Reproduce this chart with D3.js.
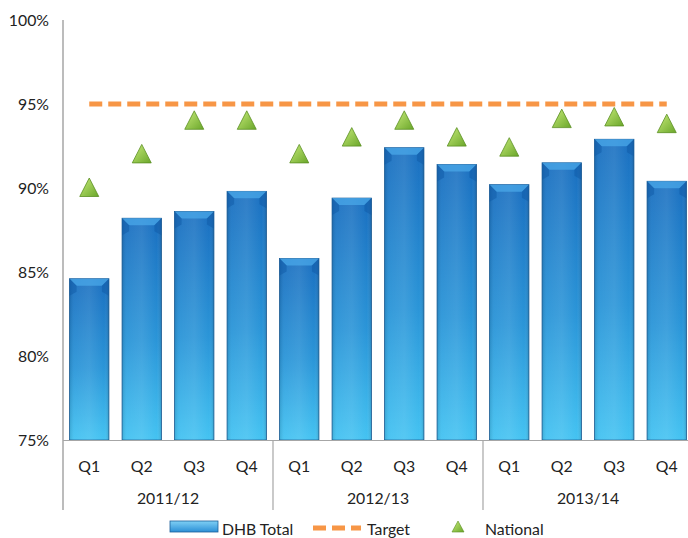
<!DOCTYPE html>
<html>
<head>
<meta charset="utf-8">
<script src="https://cdn.jsdelivr.net/npm/d3@7"></script>
<style>
  body { margin: 0; background: #fff; }
  svg text { font-family: Lato, "Open Sans", sans-serif; fill: #222; }
</style>
</head>
<body>
<div id="chart"></div>
<script>
let years = ['2011/12', '2012/13', '2013/14']
let quarters = ['Q1', 'Q2', 'Q3', 'Q4']
let dhbTotal = [84.6, 88.2, 88.6, 89.8, 85.8, 89.4, 92.4, 91.4, 90.2, 91.5, 92.9, 90.4]
let national = [90, 92, 94, 94, 92, 93, 94, 93, 92.4, 94.1, 94.2, 93.8]
let target = 95
let yTicks = [75, 80, 85, 90, 95, 100]

let width = 688
let height = 538
let fontSize = '15.8px'
let margin = { left: 63, right: -5, top: 20, bottom: 98 }
let plotW = width - margin.left - margin.right
let plotH = height - margin.top - margin.bottom

let cats = []
years.forEach(y => quarters.forEach(q => cats.push(y + '|' + q)))

let svg = d3.select('#chart').append('svg')
    .attr('width', width)
    .attr('height', height)

let defs = svg.append('defs')
let barGrad = defs.append('linearGradient')
    .attr('id', 'barGrad')
    .attr('x1', 0).attr('y1', 0).attr('x2', 0).attr('y2', 1)
barGrad.append('stop').attr('offset', '0%').attr('stop-color', '#1a6fc0')
barGrad.append('stop').attr('offset', '55%').attr('stop-color', '#2a95d8')
barGrad.append('stop').attr('offset', '100%').attr('stop-color', '#44c3f2')

let sideGrad = defs.append('linearGradient')
    .attr('id', 'sideGrad')
    .attr('x1', 0).attr('y1', 0).attr('x2', 1).attr('y2', 0)
sideGrad.append('stop').attr('offset', '0%').attr('stop-color', '#000').attr('stop-opacity', 0.12)
sideGrad.append('stop').attr('offset', '12%').attr('stop-color', '#fff').attr('stop-opacity', 0.05)
sideGrad.append('stop').attr('offset', '50%').attr('stop-color', '#fff').attr('stop-opacity', 0.1)
sideGrad.append('stop').attr('offset', '88%').attr('stop-color', '#fff').attr('stop-opacity', 0.0)
sideGrad.append('stop').attr('offset', '100%').attr('stop-color', '#000').attr('stop-opacity', 0.15)

let triGrad = defs.append('linearGradient')
    .attr('id', 'triGrad')
    .attr('x1', 0).attr('y1', 0).attr('x2', 1).attr('y2', 1)
triGrad.append('stop').attr('offset', '0%').attr('stop-color', '#c8ec7a')
triGrad.append('stop').attr('offset', '100%').attr('stop-color', '#6aa62a')

let g = svg.append('g')
    .attr('transform', `translate(${margin.left},${margin.top})`)

let x = d3.scaleBand()
    .domain(cats)
    .range([0, plotW])
    .paddingInner(0.25)
    .paddingOuter(0.125)

let y = d3.scaleLinear()
    .domain([75, 100])
    .range([plotH, 0])

// y axis labels
g.append('g')
    .selectAll('text')
    .data(yTicks)
    .join('text')
    .attr('x', -14)
    .attr('y', d => y(d))
    .attr('dy', '0.35em')
    .attr('text-anchor', 'end')
    .style('font-size', fontSize)
    .text(d => d + '%')

// bars
let bars = g.append('g').selectAll('g')
    .data(dhbTotal)
    .join('g')
    .attr('transform', (d, i) => `translate(${x(cats[i])},${y(d)})`)

bars.append('rect')
    .attr('width', x.bandwidth())
    .attr('height', d => plotH - y(d))
    .attr('fill', 'url(#barGrad)')
    .attr('stroke', '#1d5f9a')
    .attr('stroke-width', 0.8)
bars.append('rect')
    .attr('width', x.bandwidth())
    .attr('height', d => plotH - y(d))
    .attr('fill', 'url(#sideGrad)')
// top bevel
let bev = 7
bars.append('path')
    .attr('d', `M0,0 L${x.bandwidth()},0 L${x.bandwidth() - bev},${bev} L${bev},${bev} Z`)
    .attr('fill', '#4aa8e8')
    .attr('opacity', 0.75)
bars.append('path')
    .attr('d', `M0,0 L${bev},${bev} L${bev},${bev + 6} L0,${bev + 10} Z`)
    .attr('fill', '#0f5aa6')
    .attr('opacity', 0.5)
bars.append('path')
    .attr('d', `M${x.bandwidth()},0 L${x.bandwidth() - bev},${bev} L${x.bandwidth() - bev},${bev + 6} L${x.bandwidth()},${bev + 10} Z`)
    .attr('fill', '#0f5aa6')
    .attr('opacity', 0.5)

// target line
let firstC = x(cats[0]) + x.bandwidth() / 2
let lastC = x(cats[cats.length - 1]) + x.bandwidth() / 2
g.append('line')
    .attr('x1', firstC)
    .attr('x2', lastC)
    .attr('y1', y(target))
    .attr('y2', y(target))
    .attr('stroke', '#f79646')
    .attr('stroke-width', 5)
    .attr('stroke-dasharray', '13,6')

// national triangles
let tri = (cx, cy) => `M${cx},${cy - 10} L${cx + 9.5},${cy + 8.5} L${cx - 9.5},${cy + 8.5} Z`
g.append('g').selectAll('path')
    .data(national)
    .join('path')
    .attr('d', (d, i) => tri(x(cats[i]) + x.bandwidth() / 2, y(d)))
    .attr('fill', 'url(#triGrad)')
    .attr('stroke', '#5b8f22')
    .attr('stroke-width', 0.8)

// axes lines
let axisColor = '#a6a6a6'
g.append('line')
    .attr('x1', 0).attr('x2', 0)
    .attr('y1', 0).attr('y2', plotH + 70)
    .attr('stroke', axisColor)
    .attr('stroke-width', 1.5)
g.append('line')
    .attr('x1', 0).attr('x2', plotW)
    .attr('y1', plotH + 0.5).attr('y2', plotH + 0.5)
    .attr('stroke', axisColor)
    .attr('stroke-width', 1.2)

let step = x.step()
let groupW = step * 4
years.forEach((yr, k) => {
    if (k > 0) {
        g.append('line')
            .attr('x1', k * groupW).attr('x2', k * groupW)
            .attr('y1', plotH).attr('y2', plotH + 70)
            .attr('stroke', axisColor)
            .attr('stroke-width', 1.2)
    }
    g.append('text')
        .attr('x', k * groupW + groupW / 2)
        .attr('y', plotH + 64)
        .attr('text-anchor', 'middle')
        .style('font-size', fontSize)
        .text(yr)
})

g.append('g').selectAll('text')
    .data(cats)
    .join('text')
    .attr('x', d => x(d) + x.bandwidth() / 2)
    .attr('y', plotH + 32)
    .attr('text-anchor', 'middle')
    .style('font-size', fontSize)
    .text(d => d.split('|')[1])

// legend
let legend = svg.append('g').attr('transform', `translate(0, ${height - 3})`)
let legGrad = defs.append('linearGradient')
    .attr('id', 'legGrad')
    .attr('x1', 0).attr('y1', 0).attr('x2', 0).attr('y2', 1)
legGrad.append('stop').attr('offset', '0%').attr('stop-color', '#7fd0f5')
legGrad.append('stop').attr('offset', '100%').attr('stop-color', '#2b8fd6')
legend.append('rect')
    .attr('x', 170).attr('y', -14)
    .attr('width', 48).attr('height', 11)
    .attr('fill', 'url(#legGrad)')
    .attr('stroke', '#1d5f9a')
    .attr('stroke-width', 0.8)
legend.append('text').attr('x', 222).attr('y', 0).style('font-size', fontSize).text('DHB Total')
legend.append('line')
    .attr('x1', 313).attr('x2', 361)
    .attr('y1', -7).attr('y2', -7)
    .attr('stroke', '#f79646')
    .attr('stroke-width', 5)
    .attr('stroke-dasharray', '13,6')
legend.append('text').attr('x', 367).attr('y', 0).style('font-size', fontSize).text('Target')
legend.append('path')
    .attr('d', `M458,-14 L464,-3 L452,-3 Z`)
    .attr('fill', 'url(#triGrad)')
    .attr('stroke', '#5b8f22')
    .attr('stroke-width', 0.6)
legend.append('text').attr('x', 485).attr('y', 0).style('font-size', fontSize).text('National')
</script>
</body>
</html>
